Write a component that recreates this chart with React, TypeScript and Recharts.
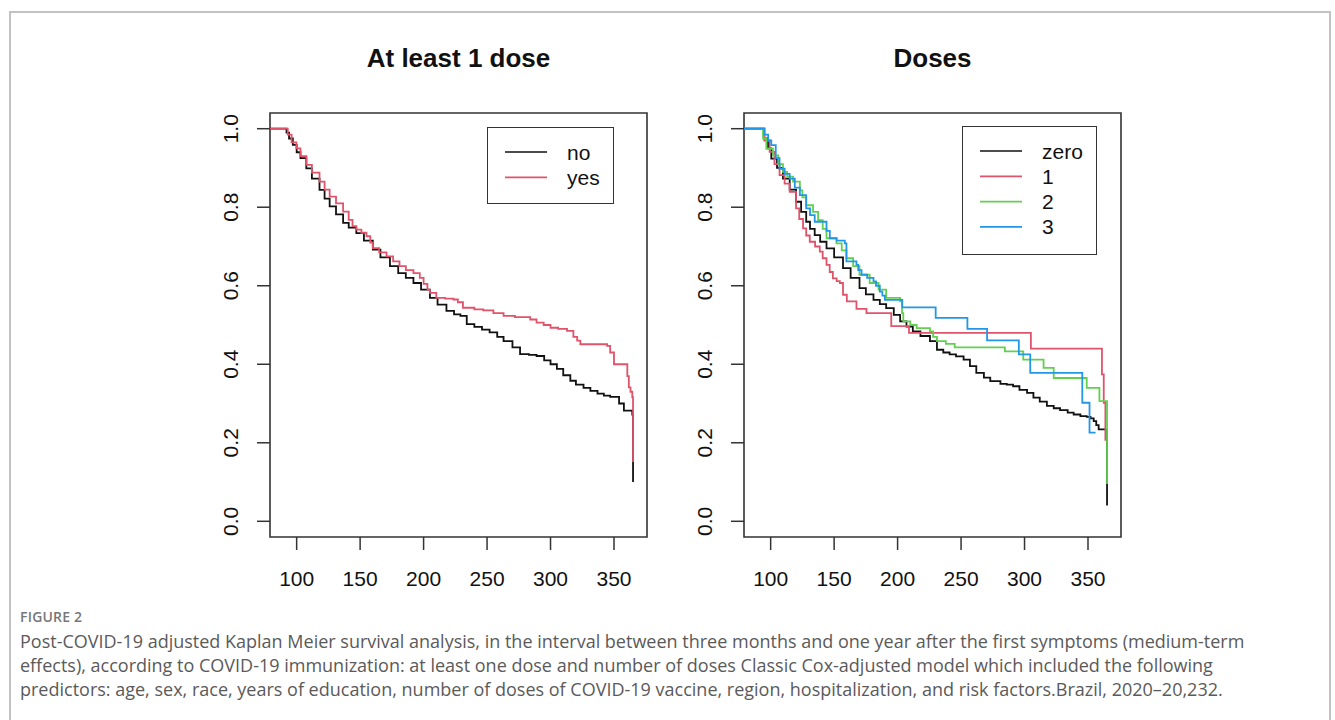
import React from "react";
import { LineChart, Line, XAxis, YAxis, ReferenceArea } from "recharts";

// ---------- data (time in days, survival probability) ----------
const xTicks = [100, 150, 200, 250, 300, 350];
const yTicks = [0, 0.2, 0.4, 0.6, 0.8, 1.0];

const leftNo: [number, number][] = [
  [79, 1], [90.5, 1], [92, 0.99], [94, 0.975], [97, 0.959], [100, 0.94], [103, 0.925], [107.6, 0.899],
  [112, 0.873], [118, 0.844], [122, 0.822], [126, 0.802], [131, 0.782], [136.6, 0.76], [141, 0.748],
  [147, 0.734], [153, 0.715], [160, 0.692], [166, 0.672], [173.5, 0.65], [180, 0.632], [186, 0.62],
  [192, 0.607], [198, 0.59], [205, 0.569], [211, 0.552], [218, 0.536], [224, 0.527], [229, 0.523],
  [234, 0.502], [240, 0.495], [246, 0.488], [252, 0.481], [258, 0.47], [263, 0.459], [270, 0.443],
  [276, 0.426], [283, 0.424], [289, 0.421], [295, 0.41], [300, 0.4], [305, 0.388], [310, 0.372],
  [315.6, 0.358], [320, 0.348], [326, 0.34], [331.4, 0.332], [337, 0.325], [342, 0.32], [347, 0.317],
  [354, 0.3], [357.8, 0.282], [363, 0.282], [364.4, 0.272], [365, 0.1],
];

const leftYes: [number, number][] = [
  [79, 1], [90.5, 1], [93, 0.985], [96, 0.965], [99.8, 0.95], [103, 0.93], [107.7, 0.908], [112, 0.888],
  [118, 0.865], [122, 0.845], [126, 0.827], [131, 0.81], [136.6, 0.789], [141, 0.768], [144, 0.752],
  [147, 0.743], [151, 0.735], [155, 0.726], [158, 0.71], [160, 0.696], [165, 0.685], [170.8, 0.675],
  [176, 0.662], [181, 0.65], [186, 0.64], [192, 0.632], [197, 0.62], [200, 0.605], [203, 0.59],
  [205, 0.582], [210, 0.569], [217, 0.567], [223.5, 0.565], [227, 0.558], [231, 0.544], [240, 0.54],
  [247, 0.537], [255, 0.53], [263, 0.523], [272, 0.52], [284, 0.514], [289, 0.506], [294.6, 0.5],
  [300, 0.493], [306, 0.49], [313, 0.485], [318, 0.47], [321, 0.46], [323.5, 0.451], [335, 0.451],
  [344.6, 0.447], [347, 0.43], [350, 0.4], [359, 0.4], [360.5, 0.37], [361.7, 0.341], [363, 0.33],
  [364.4, 0.316], [365, 0.151],
];

const dosesZero: [number, number][] = [
  [79, 1], [92.6, 1], [95, 0.975], [98, 0.95], [100.5, 0.924], [105, 0.9], [109.7, 0.873], [115, 0.845],
  [120, 0.814], [124, 0.788], [128, 0.763], [131, 0.745], [134.7, 0.729], [139, 0.712], [144, 0.695],
  [150, 0.672], [157, 0.645], [163, 0.62], [170, 0.594], [175, 0.578], [181, 0.564], [186, 0.553],
  [191, 0.543], [197, 0.526], [202, 0.509], [207, 0.496], [212, 0.484], [218, 0.472], [225.5, 0.459],
  [231, 0.437], [236, 0.43], [241, 0.425], [246, 0.42], [252, 0.412], [257, 0.395], [262, 0.378],
  [268, 0.366], [273, 0.357], [281, 0.35], [286, 0.348], [291, 0.344], [296, 0.335], [302, 0.327],
  [307, 0.315], [312, 0.305], [317.6, 0.294], [323, 0.288], [328, 0.283], [334, 0.277], [338.7, 0.272],
  [344, 0.268], [349, 0.266], [352, 0.262], [354.5, 0.255], [356.5, 0.245], [358.4, 0.234],
  [364.5, 0.23], [365, 0.04],
];

const dosesOne: [number, number][] = [
  [79, 1], [92.6, 1], [95, 0.97], [99.2, 0.941], [103, 0.91], [107, 0.882], [111, 0.86], [115, 0.839],
  [120, 0.797], [122.5, 0.77], [125.5, 0.746], [128, 0.728], [130.8, 0.712], [135, 0.7], [138.7, 0.687],
  [141, 0.67], [144, 0.653], [146.5, 0.635], [149, 0.619], [152, 0.612], [154.5, 0.607], [157, 0.577],
  [160, 0.56], [166, 0.56], [167.6, 0.541], [175.5, 0.53], [194, 0.53], [195, 0.497], [208, 0.497],
  [209, 0.48], [304.5, 0.48], [305, 0.44], [359.7, 0.44], [361, 0.374], [362.4, 0.302], [363.7, 0.205],
];

const dosesTwo: [number, number][] = [
  [79, 1], [92, 1], [94, 0.975], [96.6, 0.949], [101.8, 0.932], [106, 0.91], [109.7, 0.89], [113, 0.878],
  [117.6, 0.865], [123, 0.843], [125, 0.825], [128, 0.805], [133.4, 0.788], [137.4, 0.767], [141, 0.745],
  [144, 0.721], [151.8, 0.708], [156, 0.69], [159.7, 0.67], [165, 0.65], [170, 0.628], [178, 0.607],
  [185, 0.59], [191, 0.569], [202, 0.56], [203.5, 0.53], [204.5, 0.509], [210, 0.5], [215, 0.492],
  [225.5, 0.484], [228, 0.47], [231, 0.459], [238, 0.452], [245, 0.443], [283.4, 0.443], [284.5, 0.433],
  [297, 0.433], [299, 0.412], [312, 0.412], [315, 0.391], [321, 0.391], [323, 0.365], [348, 0.365],
  [349, 0.34], [358, 0.34], [359, 0.306], [365, 0.095],
];

const dosesThree: [number, number][] = [
  [79, 1], [92, 1], [95, 0.985], [98, 0.97], [100.5, 0.958], [104, 0.925], [107, 0.898], [111, 0.885],
  [115, 0.873], [119, 0.85], [123, 0.831], [128, 0.797], [131, 0.78], [134.7, 0.763], [142.6, 0.763],
  [144, 0.74], [146.6, 0.721], [152, 0.715], [158.4, 0.708], [159.7, 0.662], [167.6, 0.653], [169, 0.64],
  [171.6, 0.628], [176, 0.62], [181, 0.611], [183, 0.6], [186, 0.585], [188, 0.575], [190, 0.564],
  [203, 0.564], [203.7, 0.545], [229.5, 0.545], [230, 0.518], [254.5, 0.518], [255, 0.49], [270, 0.49],
  [270.5, 0.461], [295, 0.461], [295.5, 0.425], [304, 0.425], [304.5, 0.378], [345, 0.378],
  [345.5, 0.302], [350.8, 0.302], [351.2, 0.226], [356, 0.226],
];

const leftTitle = "At least 1 dose";
const rightTitle = "Doses";
const leftLegend = ["no", "yes"];
const rightLegend = ["zero", "1", "2", "3"];

const BLACK = "#111111";
const RED = "#DF536B";
const GREEN = "#61D04F";
const BLUE = "#2297E6";

const toRows = (arr: [number, number][]) => arr.map(([t, v]) => ({ t, v }));

const FONT = "'Liberation Sans', Arial, Helvetica, sans-serif";

const XTick = (props: any) => {
  const { x, y, payload } = props;
  return (
    <text x={x} y={y + 28} textAnchor="middle" dominantBaseline="central" fontSize={21} fill="#111" fontFamily={FONT}>
      {payload.value}
    </text>
  );
};

const YTick = (props: any) => {
  const { x, y, payload } = props;
  const cx = x - 26;
  return (
    <text
      x={cx}
      y={y}
      textAnchor="middle"
      dominantBaseline="central"
      fontSize={21}
      fill="#111"
      fontFamily={FONT}
      transform={`rotate(-90, ${cx}, ${y})`}
    >
      {Number(payload.value).toFixed(1)}
    </text>
  );
};

type Series = { name: string; color: string; data: [number, number][] };

const Panel = ({ left, series }: { left: number; series: Series[] }) => (
  <div style={{ position: "absolute", left, top: 90, width: 480, height: 510 }}>
    <LineChart width={480} height={510} margin={{ top: 23, right: 23, bottom: 3, left: 0 }}>
      <XAxis
        type="number"
        dataKey="t"
        domain={[79, 376]}
        ticks={xTicks}
        allowDataOverflow
        axisLine={false}
        tickSize={13}
        tickMargin={0}
        tickLine={{ stroke: "#333", strokeWidth: 1.5 }}
        tick={<XTick />}
        height={60}
      />
      <YAxis
        type="number"
        dataKey="v"
        domain={[-0.04, 1.04]}
        ticks={yTicks}
        allowDataOverflow
        axisLine={false}
        tickSize={13}
        tickMargin={0}
        tickLine={{ stroke: "#333", strokeWidth: 1.5 }}
        tick={<YTick />}
        width={80}
      />
      <ReferenceArea x1={79} x2={376} y1={-0.04} y2={1.04} fill="none" stroke="#333" strokeWidth={1.6} ifOverflow="visible" />
      {series.map((s) => (
        <Line
          key={s.name}
          name={s.name}
          data={toRows(s.data)}
          dataKey="v"
          type="stepAfter"
          stroke={s.color}
          strokeWidth={1.8}
          dot={false}
          activeDot={false}
          isAnimationActive={false}
        />
      ))}
    </LineChart>
  </div>
);

const LegendBox = ({ left, top, width, height, items, colors }: { left: number; top: number; width: number; height: number; items: string[]; colors: string[] }) => (
  <div
    style={{
      position: "absolute",
      left,
      top,
      width,
      height,
      border: "1.6px solid #333",
      boxSizing: "border-box",
      background: "#fff",
    }}
  >
    <svg width={width} height={height} style={{ position: "absolute", left: -1.6, top: -1.6 }}>
      {items.map((it, i) => (
        <g key={it}>
          <line x1={19} x2={61} y1={26 + i * 25.3} y2={26 + i * 25.3} stroke={colors[i]} strokeWidth={1.7} />
          <text x={81} y={26 + i * 25.3} dominantBaseline="central" fontSize={21} fill="#111" fontFamily={FONT}>
            {it}
          </text>
        </g>
      ))}
    </svg>
  </div>
);

export default function App() {
  const leftSeries: Series[] = [
    { name: "no", color: BLACK, data: leftNo },
    { name: "yes", color: RED, data: leftYes },
  ];
  const rightSeries: Series[] = [
    { name: "zero", color: BLACK, data: dosesZero },
    { name: "1", color: RED, data: dosesOne },
    { name: "2", color: GREEN, data: dosesTwo },
    { name: "3", color: BLUE, data: dosesThree },
  ];
  return (
    <div style={{ position: "absolute", left: 0, top: 0, width: 1335, height: 720, background: "#fff", overflow: "hidden" }}>
      <div
        style={{
          position: "absolute",
          left: 9,
          top: 11,
          width: 1322,
          height: 740,
          border: "2px solid #c2c2c2",
          boxSizing: "border-box",
        }}
      />
      <div style={{ position: "absolute", left: 270, width: 377, top: 40, textAlign: "center", fontFamily: FONT, fontWeight: "bold", fontSize: 26, color: "#111", lineHeight: "36px" }}>
        {leftTitle}
      </div>
      <div style={{ position: "absolute", left: 744, width: 377, top: 40, textAlign: "center", fontFamily: FONT, fontWeight: "bold", fontSize: 26, color: "#111", lineHeight: "36px" }}>
        {rightTitle}
      </div>
      <Panel left={190} series={leftSeries} />
      <Panel left={664} series={rightSeries} />
      <LegendBox left={487} top={127} width={127} height={77} items={leftLegend} colors={[BLACK, RED]} />
      <LegendBox left={962} top={126} width={135} height={129} items={rightLegend} colors={[BLACK, RED, GREEN, BLUE]} />
      <div style={{ position: "absolute", left: 20, top: 607, fontFamily: "'Open Sans', sans-serif", fontSize: 14, fontWeight: 600, color: "#777", letterSpacing: 0.2 }}>
        FIGURE 2
      </div>
      <div style={{ position: "absolute", left: 20, top: 629, fontFamily: "'Open Sans', sans-serif", fontSize: 18, color: "#5a5a5a", lineHeight: "24px", whiteSpace: "nowrap" }}>
        <div>Post-COVID-19 adjusted Kaplan Meier survival analysis, in the interval between three months and one year after the first symptoms (medium-term</div>
        <div>effects), according to COVID-19 immunization: at least one dose and number of doses Classic Cox-adjusted model which included the following</div>
        <div>predictors: age, sex, race, years of education, number of doses of COVID-19 vaccine, region, hospitalization, and risk factors.Brazil, 2020–20,232.</div>
      </div>
    </div>
  );
}
